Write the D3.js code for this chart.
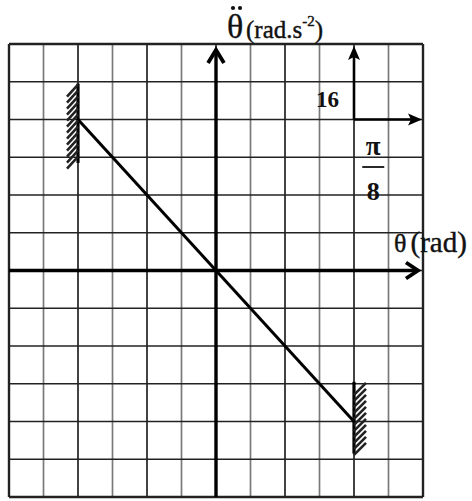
<!DOCTYPE html>
<html>
<head>
<meta charset="utf-8">
<script src="https://cdn.jsdelivr.net/npm/d3@7"></script>
<style>
  body { margin: 0; background: #fff; }
  text { font-family: "Liberation Serif", "DejaVu Serif", serif; fill: #111; }
</style>
</head>
<body>
<svg id="chart"></svg>
<script>
// values (one cell = pi/8 rad across, 16 rad.s-2 up)
var thetaTicks = [-6, -5, -4, -3, -2, -1, 0, 1, 2, 3, 4, 5, 6].map(function(k){ return k * Math.PI / 8 })
var accelTicks = [-96, -80, -64, -48, -32, -16, 0, 16, 32, 48, 64, 80, 96]
var lineTheta = [-Math.PI / 2, Math.PI / 2]
var lineAccel = [64, -64]
var scaleStep = { theta: Math.PI / 8, accel: 16 }

var screen = {width: 472, height: 501}
var box = {left: 9, right: 423, top: 44, bottom: 497}

var svg = d3.select("#chart")
    .attr("width", screen.width)
    .attr("height", screen.height)

var xScale = d3.scaleLinear()
    .domain([thetaTicks[0], thetaTicks[thetaTicks.length - 1]])
    .range([box.left, box.right])
var yScale = d3.scaleLinear()
    .domain([accelTicks[0], accelTicks[accelTicks.length - 1]])
    .range([box.bottom, box.top])

// grid
var grid = svg.append("g").attr("id", "grid")
grid.selectAll("line.v")
    .data(thetaTicks)
    .enter()
    .append("line")
    .attr("x1", function(d){ return xScale(d) })
    .attr("x2", function(d){ return xScale(d) })
    .attr("y1", box.top)
    .attr("y2", box.bottom)
    .attr("stroke", function(d, i){ return (i % 2 == 1) ? "#7a7a7a" : "#222" })
    .attr("stroke-width", function(d, i){ return (i == 0 || i == thetaTicks.length - 1) ? 2.4 : 1.7 })

grid.selectAll("line.h")
    .data(accelTicks)
    .enter()
    .append("line")
    .attr("y1", function(d){ return yScale(d) })
    .attr("y2", function(d){ return yScale(d) })
    .attr("x1", box.left)
    .attr("x2", box.right)
    .attr("stroke", "#222")
    .attr("stroke-width", function(d, i){ return (i == 0 || i == accelTicks.length - 1) ? 2.4 : 1.7 })

// main axes with open arrow heads
var x0 = xScale(0), y0 = yScale(0)
svg.append("line")
    .attr("x1", box.left).attr("x2", box.right - 6)
    .attr("y1", y0).attr("y2", y0)
    .attr("stroke", "#000").attr("stroke-width", 3.4)
svg.append("path")
    .attr("d", "M" + (box.right - 17) + "," + (y0 - 8) + " L" + (box.right - 5) + "," + y0 + " L" + (box.right - 17) + "," + (y0 + 8))
    .attr("fill", "none").attr("stroke", "#000").attr("stroke-width", 3.8)

svg.append("line")
    .attr("x1", x0).attr("x2", x0)
    .attr("y1", box.bottom).attr("y2", box.top + 5)
    .attr("stroke", "#000").attr("stroke-width", 3.4)
svg.append("path")
    .attr("d", "M" + (x0 - 8) + "," + (box.top + 19) + " L" + x0 + "," + (box.top + 6) + " L" + (x0 + 8) + "," + (box.top + 19))
    .attr("fill", "none").attr("stroke", "#000").attr("stroke-width", 3.8)

// the straight line theta'' = -k theta
var lineGenerator = d3.line()
    .x(function(d){ return xScale(d[0]) })
    .y(function(d){ return yScale(d[1]) })
svg.append("path")
    .datum(lineTheta.map(function(t, i){ return [t, lineAccel[i]] }))
    .attr("d", lineGenerator)
    .attr("fill", "none")
    .attr("stroke", "#000")
    .attr("stroke-width", 3)

// hatched stops at both ends
var drawStop = function(theta, accel, side){
    var sx = xScale(theta)
    var top, bot
    if (side < 0) { top = yScale(accel + 16 * 0.95); bot = yScale(accel - 16 * 1.15) }
    else { top = yScale(accel + 16 * 1.05); bot = yScale(accel - 16 * 0.85) }
    var g = svg.append("g")
    g.append("line")
        .attr("x1", sx).attr("x2", sx)
        .attr("y1", top).attr("y2", bot)
        .attr("stroke", "#000").attr("stroke-width", 3.2)
    var ys = d3.range(top + 1, bot - 5, 6)
    g.selectAll("line.hatch")
        .data(ys)
        .enter()
        .append("line")
        .attr("x1", function(){ return side < 0 ? sx - 11 : sx })
        .attr("x2", function(){ return side < 0 ? sx : sx + 12 })
        .attr("y1", function(y){ return y + 12 })
        .attr("y2", function(y){ return y })
        .attr("stroke", "#222").attr("stroke-width", 2.6)
}
drawStop(lineTheta[0], lineAccel[0], -1)
drawStop(lineTheta[1], lineAccel[1], 1)

// scale indicator: one step in each direction
var sx0 = xScale(4 * scaleStep.theta), sy0 = yScale(4 * scaleStep.accel)
var sx1 = xScale(6 * scaleStep.theta) - 1, sy1 = yScale(6 * scaleStep.accel) + 2
svg.append("line")
    .attr("x1", sx0).attr("x2", sx1 - 10)
    .attr("y1", sy0).attr("y2", sy0)
    .attr("stroke", "#000").attr("stroke-width", 2.6)
svg.append("path")
    .attr("d", "M" + sx1 + "," + sy0 + " l-14,-6 l3,6 l-3,6 z")
    .attr("fill", "#000")
svg.append("line")
    .attr("x1", sx0).attr("x2", sx0)
    .attr("y1", sy0).attr("y2", sy1 + 10)
    .attr("stroke", "#000").attr("stroke-width", 2.6)
svg.append("path")
    .attr("d", "M" + sx0 + "," + sy1 + " l-6,14 l6,-3 l6,3 z")
    .attr("fill", "#000")

svg.append("text")
    .attr("x", sx0 - 15).attr("y", 107)
    .attr("text-anchor", "end")
    .attr("font-size", 23).attr("font-weight", "bold")
    .text("16")

var fx = xScale(4.5 * scaleStep.theta) + 2
svg.append("text")
    .attr("x", fx).attr("y", 155)
    .attr("text-anchor", "middle")
    .attr("font-size", 27).attr("font-weight", "bold")
    .text("π")
svg.append("line")
    .attr("x1", fx - 11).attr("x2", fx + 11)
    .attr("y1", 167).attr("y2", 167)
    .attr("stroke", "#111").attr("stroke-width", 1.8)
svg.append("text")
    .attr("x", fx).attr("y", 200)
    .attr("text-anchor", "middle")
    .attr("font-size", 26).attr("font-weight", "bold")
    .text("8")

// axis titles
svg.append("text")
    .attr("x", 227).attr("y", 38)
    .attr("font-size", 34)
    .attr("stroke", "#111").attr("stroke-width", 0.4)
    .text("θ")
svg.selectAll("circle.ddot")
    .data([233, 240])
    .enter()
    .append("circle")
    .attr("cx", function(d){ return d })
    .attr("cy", 8)
    .attr("r", 2.1)
    .attr("fill", "#111")
var yt = svg.append("text")
    .attr("x", 246).attr("y", 38)
    .attr("font-size", 25)
    .attr("stroke", "#111").attr("stroke-width", 0.4)
yt.append("tspan").text("(rad.s")
yt.append("tspan").attr("font-size", 15).attr("dy", -12).text("-2")
yt.append("tspan").attr("dy", 12).text(")")

var xt = svg.append("text")
    .attr("x", 394).attr("y", 252)
    .attr("stroke", "#111").attr("stroke-width", 0.4)
xt.append("tspan").attr("font-size", 26).text("θ")
xt.append("tspan").attr("font-size", 29).attr("dx", 4).text("(rad)")
</script>
</body>
</html>
